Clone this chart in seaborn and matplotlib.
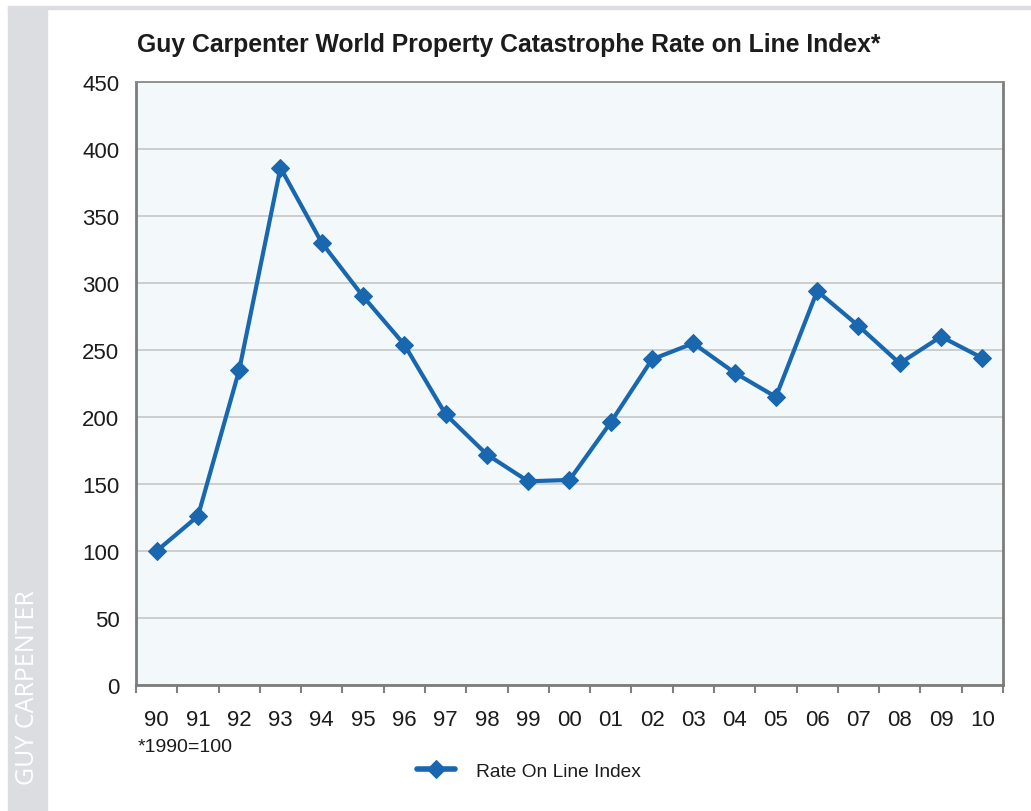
import numpy as np
import pandas as pd
import seaborn as sns
import matplotlib.pyplot as plt
from matplotlib.patches import Rectangle

# data (1990 = 100)
years = ["90", "91", "92", "93", "94", "95", "96", "97", "98", "99", "00",
         "01", "02", "03", "04", "05", "06", "07", "08", "09", "10"]
rol_index = [100, 126, 235, 386, 330, 290, 254, 202, 172, 152, 153,
             196, 243, 255, 233, 215, 294, 268, 240, 260, 244]

LINE_COL = "#1967ae"
BG_COL = "#f3f8fb"
TXT = "#1c1c1c"

sns.set_style("white")
plt.rcParams["font.family"] = ["Liberation Sans", "DejaVu Sans"]
plt.rcParams["text.color"] = TXT
plt.rcParams["xtick.labelcolor"] = TXT
plt.rcParams["ytick.labelcolor"] = TXT

df = pd.DataFrame({"year": years, "Rate On Line Index": rol_index})

fig = plt.figure(figsize=(10.31, 8.12), dpi=100)
ax = fig.add_axes([0.1319, 0.1552, 0.8409, 0.7426])
ax.set_facecolor(BG_COL)

sns.lineplot(data=df, x="year", y="Rate On Line Index", ax=ax, color=LINE_COL,
             marker="D", markersize=9, markeredgecolor=LINE_COL, linewidth=3,
             label="Rate On Line Index", sort=False)

ax.set_xlim(-0.5, len(years) - 0.5)
ax.set_ylim(0, 450)
ax.set_yticks(np.arange(0, 451, 50))
ax.yaxis.grid(True, color="#c6c6c6", linewidth=1.2)
ax.set_axisbelow(True)
ax.set_xlabel("")
ax.set_ylabel("")

ax.set_xticks(range(len(years)))
ax.set_xticklabels(years)
ax.set_xticks(np.arange(-0.5, len(years), 1), minor=True)
ax.tick_params(axis="x", which="major", length=0, pad=17, labelsize=16)
ax.tick_params(axis="x", which="minor", length=6, width=1.5, color="#808080",
               direction="out", bottom=True)
ax.tick_params(axis="y", length=0, pad=12, labelsize=16)

for side in ["left", "right", "bottom"]:
    ax.spines[side].set_color("#7c7c7c")
    ax.spines[side].set_linewidth(2)
ax.spines["top"].set_color("#8a8a8a")
ax.spines["top"].set_linewidth(1.3)

ax.get_legend().remove()
handles, labels = ax.get_legend_handles_labels()
leg = fig.legend(handles, labels, loc="center", bbox_to_anchor=(0.513, 0.049),
                 frameon=False, fontsize=13.8, handlelength=2.0, handletextpad=1.1)
for h in leg.legend_handles:
    h.set_linewidth(4)

fig.text(0.1329, 0.944, "Guy Carpenter World Property Catastrophe Rate on Line Index*",
         fontsize=17.8, fontweight="bold", ha="left", va="center")
fig.text(0.1339, 0.080, "*1990=100", fontsize=14, ha="left", va="center")

# grey side band and top rule
fig.patches.append(Rectangle((8 / 1031, 0), 39 / 1031, 1 - 8 / 812,
                             transform=fig.transFigure, color="#dcdde0", zorder=0))
fig.patches.append(Rectangle((8 / 1031, 1 - 10 / 812), 1, 3 / 812,
                             transform=fig.transFigure, color="#dcdde0", zorder=0))
fig.text(27.5 / 1031, 1 - 688 / 812, "GUY CARPENTER", rotation=90, color="white",
         fontsize=18, family=["Open Sans", "DejaVu Sans"], ha="center", va="center")

fig.savefig("out.png", dpi=100)
